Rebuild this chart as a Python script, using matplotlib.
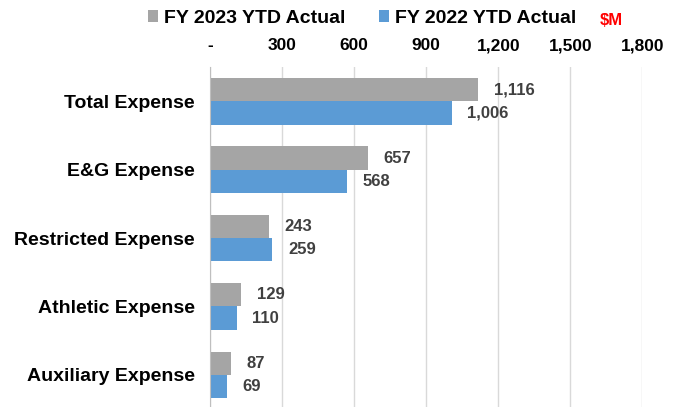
import matplotlib.pyplot as plt
import numpy as np

plt.rcParams['font.family'] = ['Liberation Sans', 'DejaVu Sans']

categories = ["Total Expense", "E&G Expense", "Restricted Expense",
              "Athletic Expense", "Auxiliary Expense"]
fy2023 = [1116, 657, 243, 129, 87]
fy2022 = [1006, 568, 259, 110, 69]
tick_vals = [0, 300, 600, 900, 1200, 1500, 1800]
tick_labels = ["-", "300", "600", "900", "1,200", "1,500", "1,800"]

gray = "#A5A5A5"
blue = "#5B9BD5"
label_color = "#404040"

fig = plt.figure(figsize=(6.76, 4.07), dpi=100)
ax = fig.add_axes([0.311, -0.005, 0.639, 0.84])

y = np.arange(len(categories))
h = 0.34
ax.barh(y - h / 2, fy2023, height=h, color=gray, zorder=3, label="FY 2023 YTD Actual")
ax.barh(y + h / 2, fy2022, height=h, color=blue, zorder=3, label="FY 2022 YTD Actual")

for i in range(len(categories)):
    ax.text(fy2023[i] + 65, y[i] - h / 2, f"{fy2023[i]:,}", va="center", ha="left",
            fontsize=12, fontweight="bold", color=label_color)
    ax.text(fy2022[i] + 65, y[i] + h / 2, f"{fy2022[i]:,}", va="center", ha="left",
            fontsize=12, fontweight="bold", color=label_color)

ax.set_xlim(0, 1800)
ax.set_ylim(len(categories) - 0.5, -0.5)
ax.set_yticks(y)
ax.set_yticklabels(categories, fontsize=14, fontweight="bold")
ax.xaxis.tick_top()
ax.set_xticks(tick_vals)
ax.set_xticklabels(tick_labels, fontsize=12.5, fontweight="bold")
ax.tick_params(axis="x", length=0, pad=10)
ax.tick_params(axis="y", length=0, pad=11)
ax.grid(axis="x", color="#D9D9D9", linewidth=1, zorder=0)

for s in ["top", "right", "bottom"]:
    ax.spines[s].set_visible(False)
ax.spines["left"].set_color("#BFBFBF")
ax.spines["left"].set_zorder(4)

ax.legend(loc="upper left", bbox_to_anchor=(-0.163, 1.19), ncol=2, frameon=False,
          prop={"size": 14, "weight": "bold"}, handlelength=0.55, handleheight=0.55,
          handletextpad=0.3, columnspacing=1.7, borderaxespad=0)
fig.text(0.887, 0.95, r"\$M", color="red", fontsize=12, fontweight="bold",
         ha="left", va="center")

fig.savefig("out.png", dpi=100)
